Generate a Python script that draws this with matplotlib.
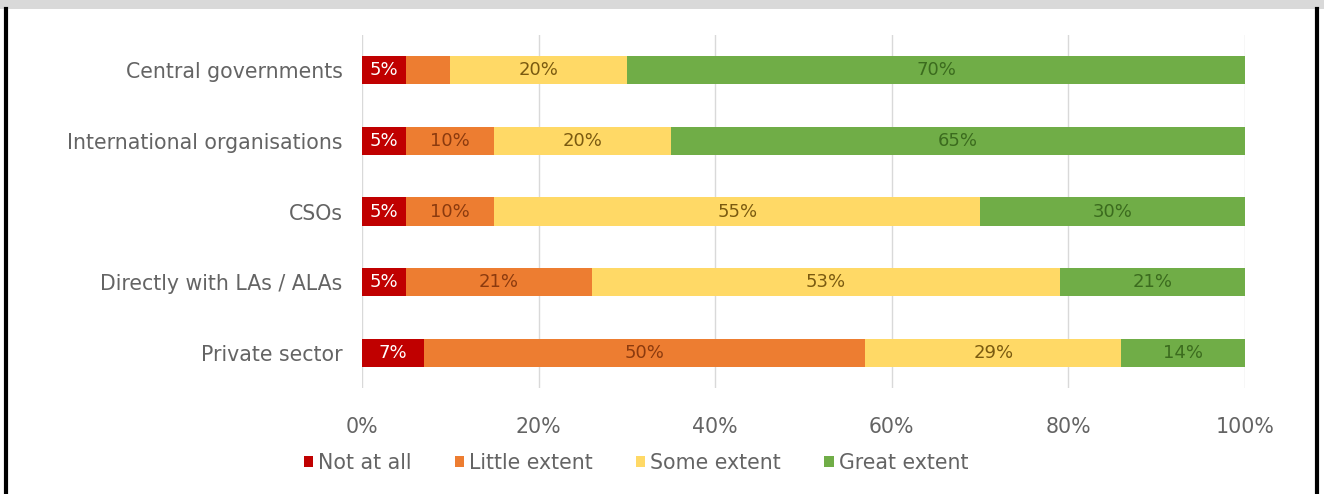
import matplotlib
matplotlib.use("Agg")
import matplotlib.pyplot as plt
from matplotlib.patches import Rectangle
from matplotlib.lines import Line2D
import numpy as np

categories = ["Central governments", "International organisations", "CSOs",
              "Directly with LAs / ALAs", "Private sector"]
series_names = ["Not at all", "Little extent", "Some extent", "Great extent"]
not_at_all = [5, 5, 5, 5, 7]
little_extent = [5, 10, 10, 21, 50]
some_extent = [20, 20, 55, 53, 29]
great_extent = [70, 65, 30, 21, 14]
# segments whose value label is shown
show_label = [
    [True, True, True, True, True],
    [False, True, True, True, True],
    [True, True, True, True, True],
    [True, True, True, True, True],
]
x_ticks = [0, 20, 40, 60, 80, 100]
x_tick_labels = ["0%", "20%", "40%", "60%", "80%", "100%"]

fill_colors = ["#C00000", "#ED7D31", "#FFD966", "#70AD47"]
text_colors = ["#FFFFFF", "#8B3A0E", "#7A5A10", "#3B6B1E"]

W, H = 1324, 494
fig = plt.figure(figsize=(W / 100, H / 100), dpi=100)
fig.patch.set_facecolor("white")

# frame: grey header band and side rules
fig.add_artist(Rectangle((0, 1 - 9 / H), 1, 9 / H, transform=fig.transFigure,
                         facecolor="#D9D9D9", edgecolor="none"))
fig.add_artist(Line2D([5.5 / W, 5.5 / W], [0, 1 - 9 / H], transform=fig.transFigure,
                      color="black", lw=3))
fig.add_artist(Line2D([1316.5 / W, 1316.5 / W], [0, 1 - 9 / H], transform=fig.transFigure,
                      color="black", lw=3))

left, right = 362 / W, 1245 / W
top, bottom = 1 - 35 / H, 1 - 388 / H
ax = fig.add_axes([left, bottom, right - left, top - bottom])

series = [not_at_all, little_extent, some_extent, great_extent]
y = np.arange(len(categories))
cum = np.zeros(len(categories))
for i, vals in enumerate(series):
    vals = np.array(vals, dtype=float)
    ax.barh(y, vals, left=cum, height=0.4, color=fill_colors[i],
            label=series_names[i], zorder=3)
    for j, v in enumerate(vals):
        if show_label[i][j]:
            ax.text(cum[j] + v / 2, y[j], f"{int(v)}%", ha="center", va="center",
                    color=text_colors[i], fontsize=13, zorder=4,
                    family="Liberation Sans Narrow")
    cum += vals

ax.set_xlim(0, 100)
ax.set_ylim(len(categories) - 0.5, -0.5)
ax.set_xticks(x_ticks)
ax.set_xticklabels(x_tick_labels)
ax.set_yticks(y)
ax.set_yticklabels(categories)
ax.tick_params(axis="both", length=0, labelsize=14.8, labelcolor="#646464")
ax.tick_params(axis="y", pad=14)
ax.tick_params(axis="x", pad=21)
ax.grid(axis="x", color="#D9D9D9", lw=1, zorder=0)
for s in ax.spines.values():
    s.set_visible(False)

handles, labels = ax.get_legend_handles_labels()
fig.legend(handles, labels, loc="center", bbox_to_anchor=(636 / W, 1 - 463 / H),
           ncol=4, frameon=False, fontsize=14.8, labelcolor="#646464",
           handlelength=0.45, handleheight=0.45, handletextpad=0.25, columnspacing=2.1)

fig.savefig("out.png", dpi=100, facecolor="white")
